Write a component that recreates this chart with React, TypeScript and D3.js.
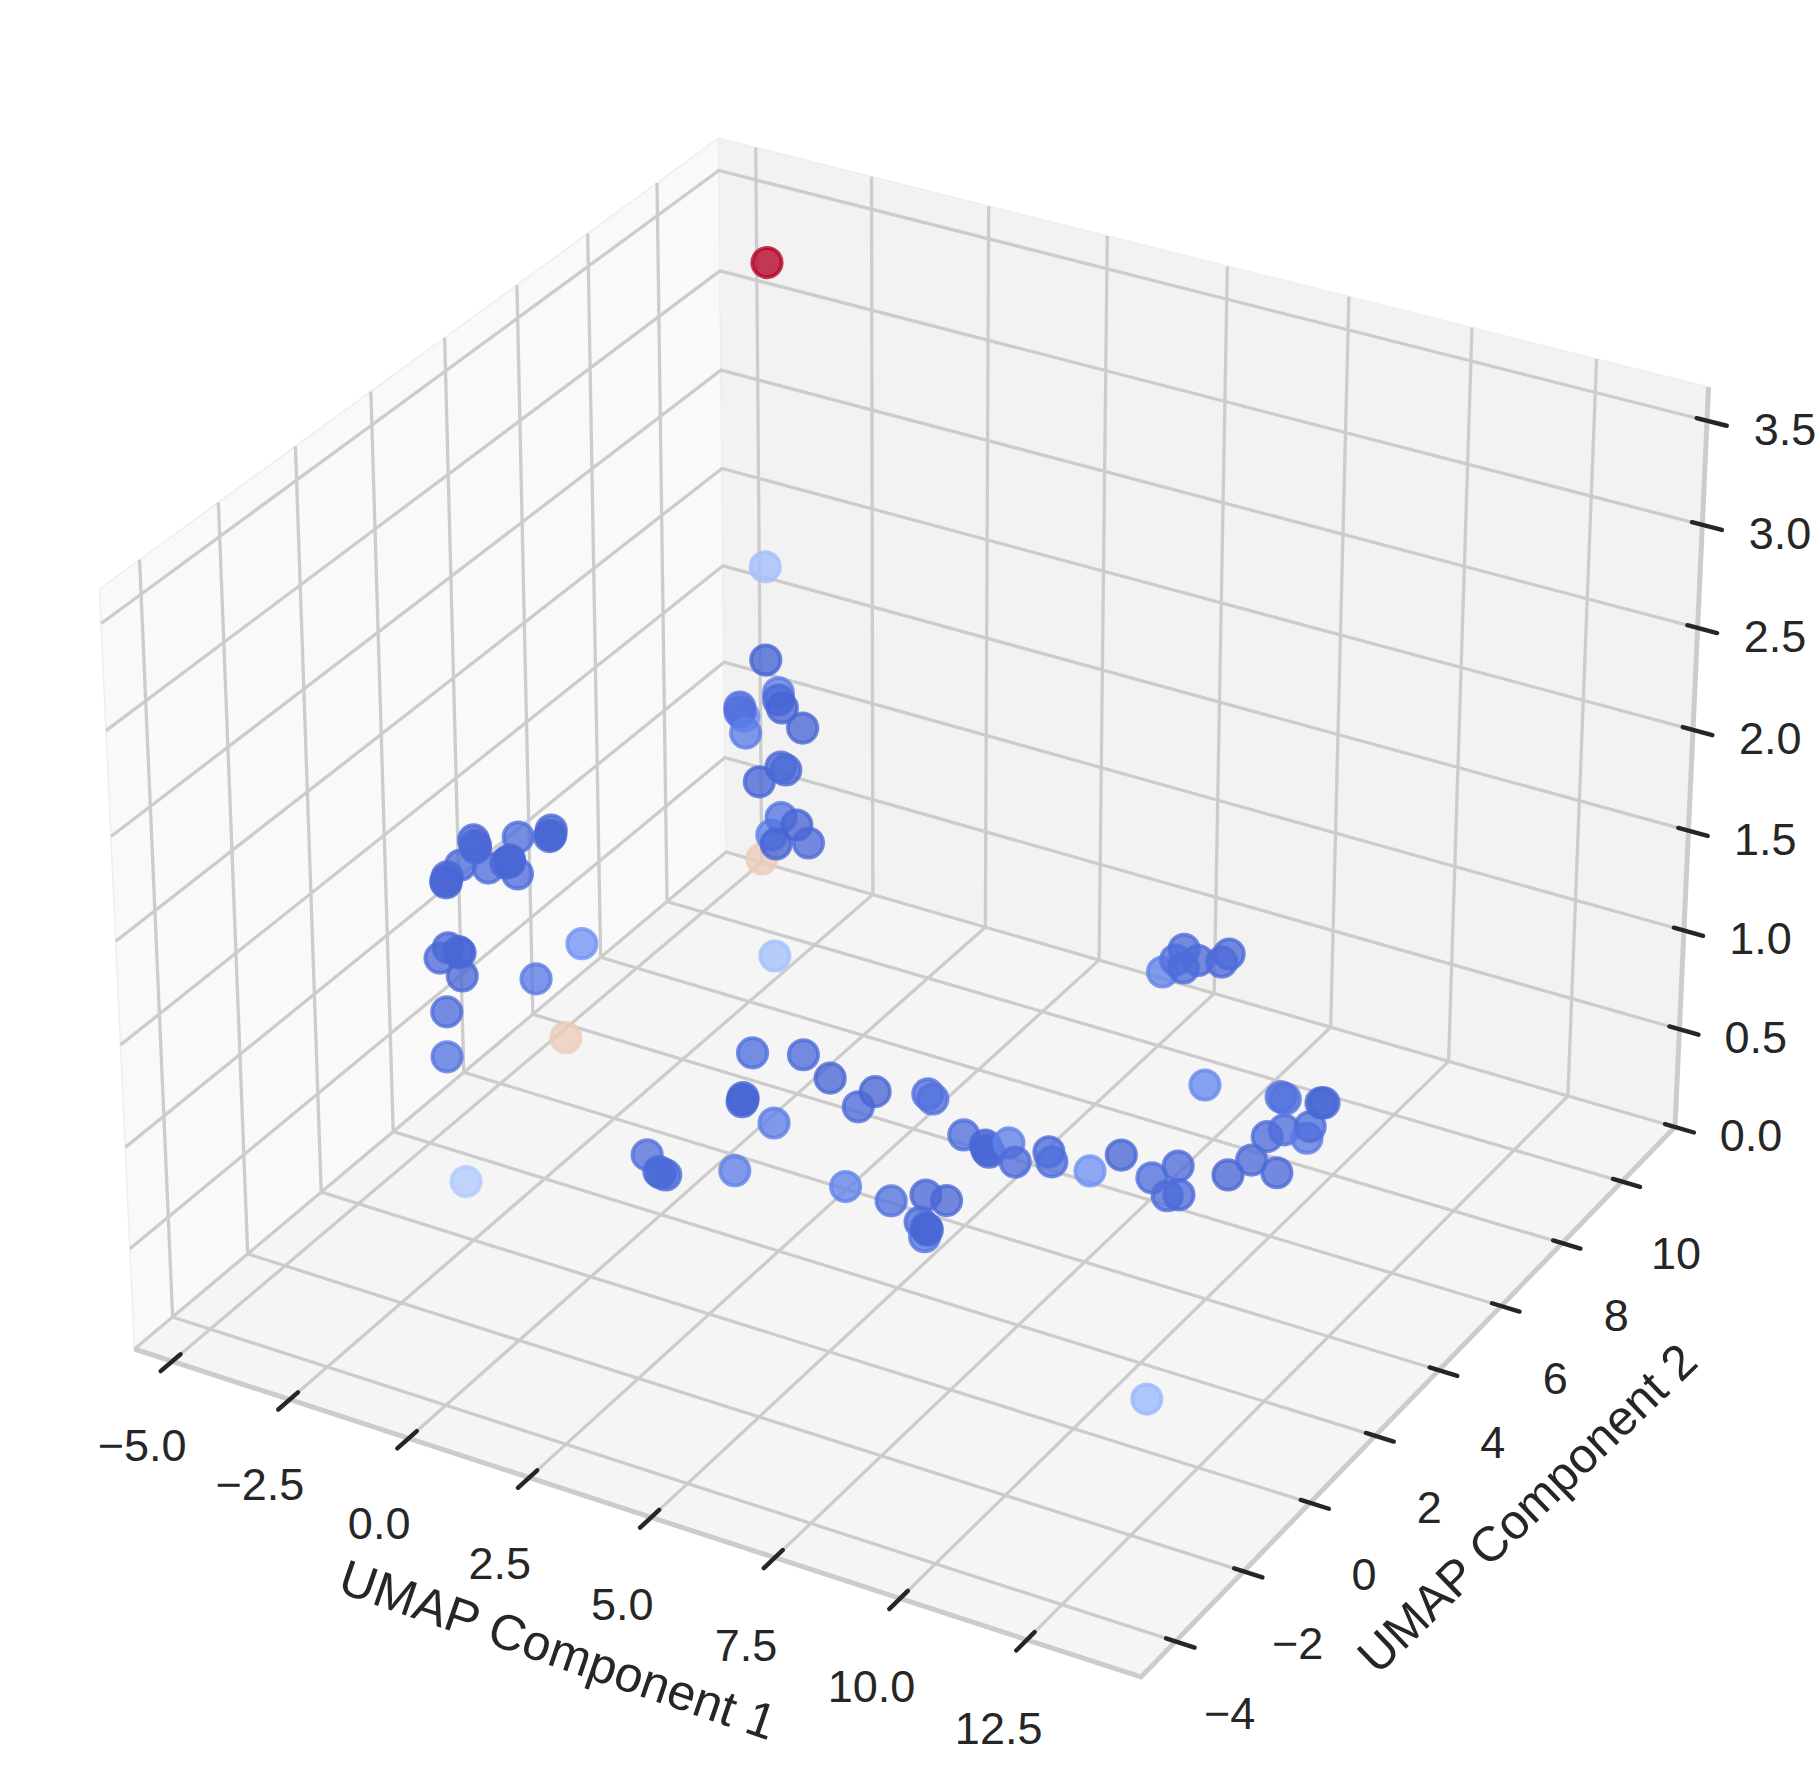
import React from "react";
import * as d3 from "d3";

const xTicks = [-5, -2.5, 0, 2.5, 5, 7.5, 10, 12.5];
const yTicks = [-4, -2, 0, 2, 4, 6, 8, 10];
const zTicks = [0, 0.5, 1, 1.5, 2, 2.5, 3, 3.5];
const xLim = [-5.81, 14.72];
const yLim = [-5, 11.81];
const zLim = [0, 3.66];

// Read from the picture. Depth along the view ray cannot be read from a 2-D image, so z is an estimate.
const umap1 = [-4.28,-4.35,-3.97,-4.28,-4.13,-3.91,-4.37,-4.63,-4.53,-4.01,-3.17,-3.39,-3.53,-3.59,-4.69,-4.24,-4.05,-3.47,-4.02,-3.99,-4.46,-4.37,-4.36,-4.85,-5.22,-4.72,-5.51,-5.38,-5.32,-4.14,-4.54,-4.54,-4.50,-5.20,-5.10,-5.14,-5.31,-5.38,-5.14,-5.09,-5.00,-5.33,-5.23,-5.30,-5.24,-2.58,-4.44,-3.33,-1.12,-0.26,0.60,1.57,1.57,2.46,2.63,-0.45,-0.39,-0.41,0.51,-0.94,-0.45,-0.28,-0.39,0.74,2.78,3.75,4.20,4.62,4.57,4.89,4.82,4.77,3.76,4.28,4.39,4.46,4.62,5.05,5.41,5.63,6.39,6.62,7.49,7.71,8.03,8.20,8.65,8.78,9.39,8.64,8.80,9.30,9.16,8.20,8.30,8.94,8.99,6.77,10.97,4.78,4.78,5.05,4.73,5.16,5.57,5.55];
const umap2 = [11.01,11.23,10.58,11.38,11.18,10.99,10.45,10.68,10.55,10.01,10.59,10.37,10.41,9.84,11.39,11.09,11.12,11.16,11.56,10.88,4.90,4.77,4.72,4.47,3.32,3.45,4.06,3.94,3.87,3.52,3.71,3.82,3.76,2.92,2.76,2.80,2.80,3.12,3.10,3.08,3.01,2.97,2.82,5.46,6.72,8.89,5.17,0.87,6.21,6.55,6.16,5.65,6.16,6.50,6.41,5.01,4.90,4.95,4.61,2.87,2.55,2.52,2.53,3.14,3.58,3.57,3.97,3.99,3.27,2.95,3.13,3.17,5.74,5.65,5.54,5.50,5.88,5.45,5.96,5.73,5.79,6.42,6.08,6.57,5.75,5.86,6.72,7.27,7.14,7.98,8.28,8.24,8.56,9.10,9.08,9.25,9.27,8.83,0.74,10.44,10.86,10.71,11.21,11.02,11.16,11.43];
const umapZ = [1.7,3.2,1.3,1,1,1,1,1,1,1,1,.8,.8,.8,.1,.3,.4,.3,.3,.3,1.2,1.2,1.2,1.2,1.2,1.2,1.2,1.2,1.2,1.2,1.2,1.2,1.2,1.2,1.2,1.2,.8,.8,.8,.8,.7,.5,.3,.3,.3,.1,.1,.1,.1,.1,.1,.1,.1,.1,.1,.1,.1,.1,.1,.1,.1,.1,.1,.1,.1,.1,.1,.1,.1,.1,.1,.1,.1,.1,.1,.1,.1,.1,.1,.1,.1,.1,.1,.1,.1,.1,.1,.1,.1,.1,.1,.1,.1,.1,.1,.1,.1,.1,.1,.3,.3,.3,.3,.3,.3,.3];
const colorValue = [.36,1,.02,.13,.05,.02,.2,.08,.08,.13,.03,.03,.05,.03,.57,.15,.1,.06,.03,.02,.03,.03,.03,.07,.05,.07,.04,.04,.04,.06,.05,.03,.03,.03,.03,.03,.05,.04,.04,.03,.04,.06,.1,.12,.2,.36,.57,.4,.07,.06,.03,.06,.03,.08,.09,.03,.03,.03,.13,.08,.05,.05,.05,.14,.15,.09,.04,.04,.06,.1,.03,.03,.07,.03,.03,.03,.14,.06,.05,.07,.2,.03,.07,.06,.07,.05,.03,.05,.05,.06,.07,.12,.07,.09,.09,.03,.03,.17,.33,.15,.09,.06,.06,.06,.05,.05];
const colormapStops = [0,.1,.2,.3,.4,.5,.6,.7,.8,.9,1];
const colormapColors = ["#4460d0","#5574e0","#6f92f3","#8db0fe","#b1cbfc","#dddcdc","#f4c5ad","#f59d7e","#e0654f","#c5333b","#b40426"];
const colormap = d3.scaleLinear<string>().domain(colormapStops).range(colormapColors);

const corners = { Lb:[134.5,1349], Fb:[1141,1677], Rb:[1675,1127], A:[726,852], Lt:[99.5,589], B:[719,138.2] };
const [x00,y00]=corners.Lb,[x10,y10]=corners.Fb,[x11,y11]=corners.Rb,[x01,y01]=corners.A;
const dx1=x10-x11,dx2=x01-x11,sx=x00-x10+x11-x01,dy1=y10-y11,dy2=y01-y11,sy=y00-y10+y11-y01;
const den=dx1*dy2-dx2*dy1;
const g=(sx*dy2-dx2*sy)/den,h=(dx1*sy-sx*dy1)/den;
const a=x10-x00+g*x10,b=x01-x00+h*x01,c=x00,d_=y10-y00+g*y10,e=y01-y00+h*y01,f=y00;
const ry=(corners.B[1]*(1+h)-e-corners.Lt[1])/(corners.Lt[1]-corners.B[1]);
const rx=-0.0434;
const p=corners.Lt[0]*(1+rx)-c,q=corners.Lt[1]*(1+ry)-f;
const xS=d3.scaleLinear().domain(xLim).range([0,1]);
const yS=d3.scaleLinear().domain(yLim).range([0,1]);
const zS=d3.scaleLinear().domain(zLim).range([0,1]);
const projUVW=(u:number,v:number,w:number)=>[(a*u+b*v+c+p*w)/(g*u+h*v+1+rx*w),(d_*u+e*v+f+q*w)/(g*u+h*v+1+ry*w)];
const proj=(x:number,y:number,z:number)=>projUVW(xS(x),yS(y),zS(z));
const line=d3.line();
const path3=(pts:number[][])=>line(pts.map(t=>proj(t[0],t[1],t[2])) as any)!;
const poly=(pts:number[][])=>path3(pts)+"Z";
const [x0,x1]=xLim,[y0,y1]=yLim,[z0,z1]=zLim;
const ink="#262626",grid="#cccccc";

export default function App(){
 return <svg width={1818} height={1790} style={{position:"absolute",left:0,top:0,background:"#fff"}} fontFamily="Liberation Sans">
  <path d={poly([[x0,y0,z0],[x0,y1,z0],[x0,y1,z1],[x0,y0,z1]])} fill="#f9f9f9" stroke="#eeeeee" strokeWidth={1.5}/>
  <path d={poly([[x0,y1,z0],[x1,y1,z0],[x1,y1,z1],[x0,y1,z1]])} fill="#f2f2f2" stroke="#eeeeee" strokeWidth={1.5}/>
  <path d={poly([[x0,y0,z0],[x1,y0,z0],[x1,y1,z0],[x0,y1,z0]])} fill="#f5f5f5" stroke="#eeeeee" strokeWidth={1.5}/>
  <g fill="none" stroke={grid} strokeWidth={3.3}>
   {xTicks.map(t=><path key={"x"+t} d={path3([[t,y0,z0],[t,y1,z0],[t,y1,z1]])}/>)}
   {yTicks.map(t=><path key={"y"+t} d={path3([[x1,t,z0],[x0,t,z0],[x0,t,z1]])}/>)}
   {zTicks.map(t=><path key={"z"+t} d={path3([[x0,y0,t],[x0,y1,t],[x1,y1,t]])}/>)}
  </g>
  <path d={path3([[x0,y0,z0],[x1,y0,z0],[x1,y1,z0],[x1,y1,z1]])} fill="none" stroke={grid} strokeWidth={5}/>
  <g stroke={ink} strokeWidth={4.4} strokeLinecap="round">
   {xTicks.map(t=>{const A=proj(t,yS.invert(0.013),z0),B=proj(t,yS.invert(-0.018),z0);return <line key={t} x1={A[0]} y1={A[1]} x2={B[0]} y2={B[1]}/>;})}
   {yTicks.map(t=>{const A=proj(xS.invert(0.991),t,z0),B=proj(xS.invert(1.018),t,z0);return <line key={t} x1={A[0]} y1={A[1]} x2={B[0]} y2={B[1]}/>;})}
   {zTicks.map(t=>{const A=proj(xS.invert(0.99),y1,t),B=proj(xS.invert(1.019),y1,t);return <line key={t} x1={A[0]} y1={A[1]} x2={B[0]} y2={B[1]}/>;})}
  </g>
  <g fill={ink} fontSize={45} textAnchor="middle" dominantBaseline="central">
   {xTicks.map(t=>{const P=proj(t,y0,z0);return <text key={t} x={P[0]-30+(t+5)*0.1} y={P[1]+84+(t+5)*0.28}>{d3.format(".1f")(t).replace("-","\u2212")}</text>;})}
   {yTicks.map(t=>{const P=proj(x1,t,z0);return <text key={t} x={P[0]+54} y={P[1]+72}>{String(t).replace("-","\u2212")}</text>;})}
   {zTicks.map(t=>{const P=proj(x1,y1,t);return <text key={t} x={P[0]+76+t*0.6} y={P[1]+8+t*0.3}>{t.toFixed(1)}</text>;})}
  </g>
  <g fill={ink} textAnchor="middle" dominantBaseline="central">
   <text fontSize={50} transform="translate(558,1650) rotate(19)">UMAP Component 1</text>
   <text fontSize={49} transform="translate(1527,1508) rotate(-44)">UMAP Component 2</text>
  </g>
  <g>
   {umap1.map((v,i)=>{const P=proj(v,umap2[i],umapZ[i]),col=colormap(colorValue[i]);return <circle key={i} cx={P[0]} cy={P[1]} r={14.7} fill={col} fillOpacity={0.78} stroke={col} strokeOpacity={0.78} strokeWidth={3.8}/>;})}
  </g>
 </svg>;
}
